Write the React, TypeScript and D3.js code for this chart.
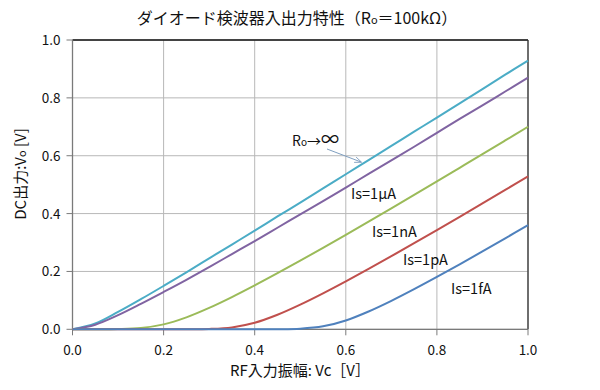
import React from "react";
import * as d3 from "d3";

const vc = [0, 0.05, 0.1, 0.15, 0.2, 0.25, 0.3, 0.35, 0.4, 0.45, 0.5, 0.55, 0.6, 0.65, 0.7, 0.75, 0.8, 0.85, 0.9, 0.95, 1.0];
const roInf = [0, 0.020, 0.060, 0.104, 0.150, 0.197, 0.245, 0.293, 0.341, 0.390, 0.438, 0.487, 0.536, 0.585, 0.634, 0.683, 0.732, 0.781, 0.830, 0.880, 0.929];
const is1uA = [0, 0.016, 0.049, 0.088, 0.129, 0.171, 0.215, 0.260, 0.305, 0.351, 0.397, 0.443, 0.490, 0.537, 0.584, 0.631, 0.679, 0.727, 0.774, 0.822, 0.870];
const is1nA = [0, 0.0001, 0.0009, 0.0046, 0.0171, 0.0414, 0.074, 0.1114, 0.1517, 0.1938, 0.2372, 0.2816, 0.3266, 0.3721, 0.4182, 0.4646, 0.5112, 0.5582, 0.6053, 0.6527, 0.7002];
const is1pA = [0, 0, 0, 0, 0, 0.0002, 0.0012, 0.0065, 0.0225, 0.0502, 0.0852, 0.1242, 0.1656, 0.2086, 0.2526, 0.2975, 0.343, 0.389, 0.4353, 0.4819, 0.5289];
const is1fA = [0, 0, 0, 0, 0, 0, 0, 0, 0.0001, 0.0003, 0.0021, 0.0102, 0.0306, 0.0616, 0.0984, 0.1387, 0.181, 0.2246, 0.2692, 0.3144, 0.3602];

const xTicks = [0, 0.2, 0.4, 0.6, 0.8, 1.0];
const yTicks = [0, 0.2, 0.4, 0.6, 0.8, 1.0];

const seriesList = [
  { name: "Ro→∞", values: roInf, color: "#4BACC6" },
  { name: "Is=1μA", values: is1uA, color: "#8064A2" },
  { name: "Is=1nA", values: is1nA, color: "#9BBB59" },
  { name: "Is=1pA", values: is1pA, color: "#C0504D" },
  { name: "Is=1fA", values: is1fA, color: "#4F81BD" },
];

const FONT = "'Noto Sans CJK JP', 'Noto Sans', sans-serif";

export default function App() {
  const W = 600, H = 390;
  const left = 72.5, right = 528, top = 40, bottom = 329.3;
  const x = d3.scaleLinear().domain([0, 1]).range([left, right]);
  const y = d3.scaleLinear().domain([0, 1]).range([bottom, top]);
  const line = d3
    .line<number>()
    .x((_, i) => x(vc[i]))
    .y((d) => y(d))
    .curve(d3.curveCatmullRom.alpha(0.5));

  return (
    <svg width={W} height={H} style={{ position: "absolute", left: 0, top: 0, background: "#fff" }} fontFamily={FONT}>
      <defs>
        <marker id="arr" viewBox="0 0 10 10" refX="9" refY="5" markerWidth="7" markerHeight="7" orient="auto">
          <path d="M0,1 L10,5 L0,9" fill="none" stroke="#7f9fc0" strokeWidth="1.2" />
        </marker>
      </defs>
      <rect x={0} y={0} width={W} height={H} fill="#fff" />
      <text x={297} y={24} textAnchor="middle" fontSize={16} fill="#111">
        ダイオード検波器入出力特性（R<tspan fontSize={11}>o</tspan>＝100kΩ）
      </text>
      {xTicks.map((t) => (
        <line key={"gx" + t} x1={x(t)} x2={x(t)} y1={top} y2={bottom} stroke="#b8b8b8" strokeWidth={1} />
      ))}
      {yTicks.map((t) => (
        <line key={"gy" + t} x1={left} x2={right} y1={y(t)} y2={y(t)} stroke="#b8b8b8" strokeWidth={1} />
      ))}
      <line x1={left} x2={right} y1={top} y2={top} stroke="#111" strokeWidth={1.5} />
      <line x1={right} x2={right} y1={top} y2={bottom} stroke="#333" strokeWidth={1.3} />
      <line x1={left} x2={left} y1={top} y2={bottom} stroke="#7a7a7a" strokeWidth={1.3} />
      <line x1={left} x2={right} y1={bottom} y2={bottom} stroke="#7a7a7a" strokeWidth={1.3} />
      {yTicks.map((t) => (
        <g key={"ty" + t}>
          <line x1={left - 6} x2={left} y1={y(t)} y2={y(t)} stroke="#7a7a7a" strokeWidth={1} />
          <text x={left - 12} y={y(t) + 5} textAnchor="end" fontSize={13.5} fill="#111">
            {t.toFixed(1)}
          </text>
        </g>
      ))}
      {xTicks.map((t) => (
        <g key={"tx" + t}>
          <line x1={x(t)} x2={x(t)} y1={bottom} y2={bottom + 6} stroke="#7a7a7a" strokeWidth={1} />
          <text x={x(t)} y={bottom + 26} textAnchor="middle" fontSize={13.5} fill="#111">
            {t.toFixed(1)}
          </text>
        </g>
      ))}
      {seriesList.map((s) => (
        <path key={s.name} d={line(s.values) || ""} fill="none" stroke={s.color} strokeWidth={2} />
      ))}
      <text x={292} y={146} fontSize={14} fill="#111">
        R<tspan fontSize={10}>o</tspan>→<tspan fontSize={18}>∞</tspan>
      </text>
      <line x1={327} x2={361} y1={149} y2={162} stroke="#7f9fc0" strokeWidth={1} markerEnd="url(#arr)" />
      <text x={351} y={199} fontSize={14.5} fill="#111">Is=1μA</text>
      <text x={372} y={237} fontSize={14.5} fill="#111">Is=1nA</text>
      <text x={403} y={265} fontSize={14.5} fill="#111">Is=1pA</text>
      <text x={451} y={294} fontSize={14.5} fill="#111">Is=1fA</text>
      <text x={300} y={376} textAnchor="middle" fontSize={15} fill="#111">
        RF入力振幅: Vc［V］
      </text>
      <text transform="translate(26,174) rotate(-90)" textAnchor="middle" fontSize={15} fill="#111">
        DC出力:V<tspan fontSize={11}>o</tspan> [V]
      </text>
    </svg>
  );
}
